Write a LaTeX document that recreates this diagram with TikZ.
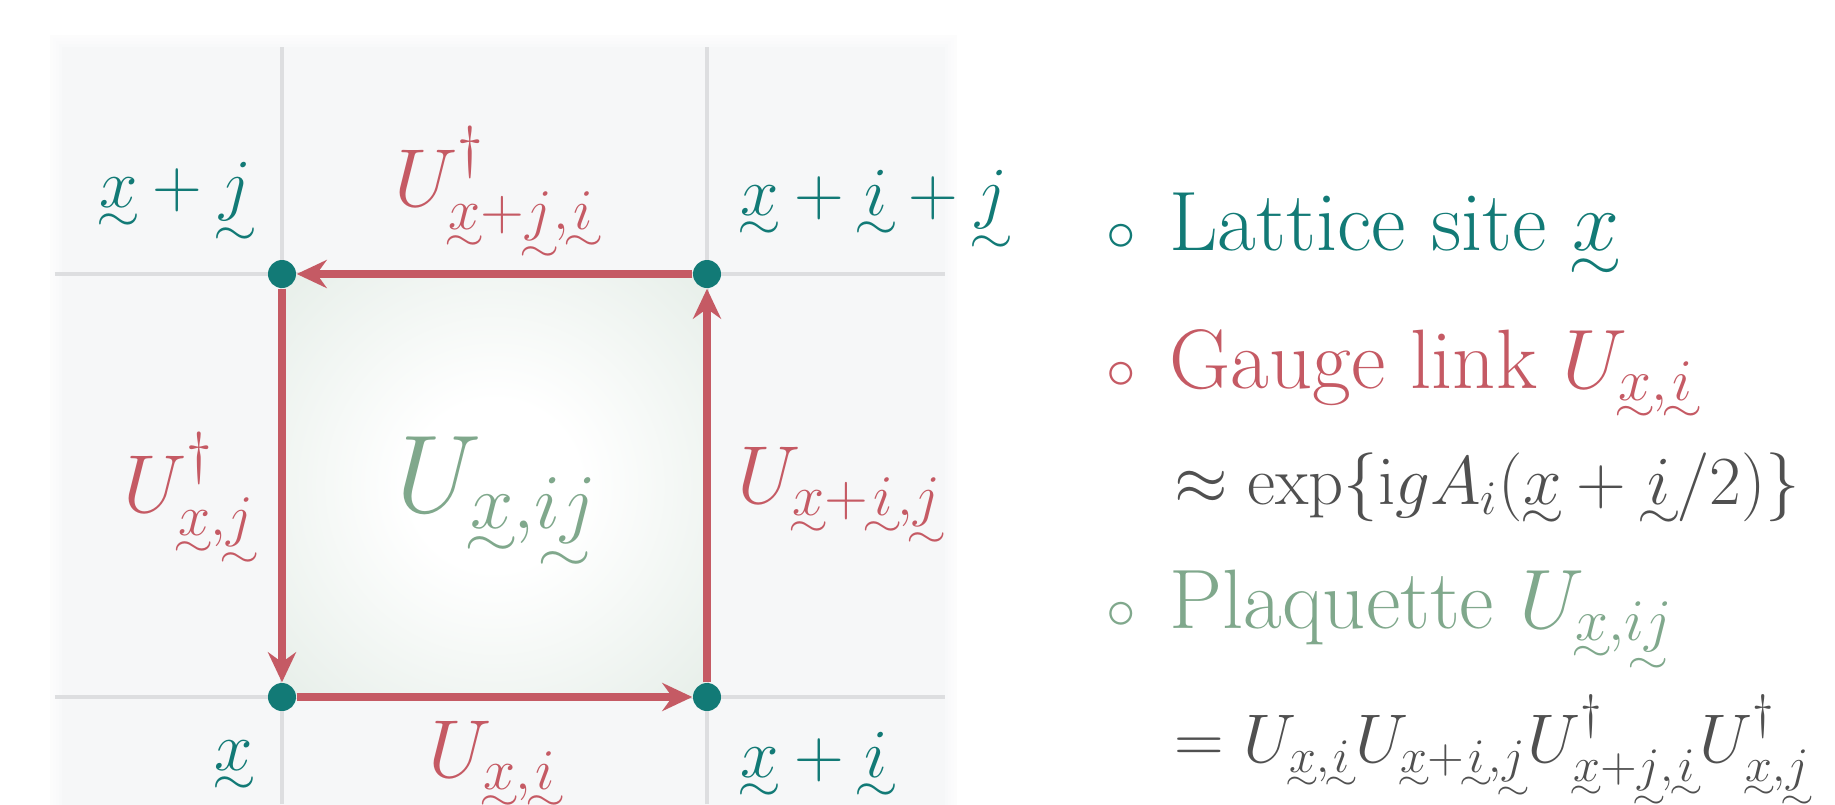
\RequirePackage{fix-cm}
\documentclass[tikz,border=0pt]{standalone}
\usepackage{amsmath}
\usepackage{graphicx}
\usetikzlibrary{arrows.meta,calc}

\definecolor{siteteal}{RGB}{18,122,118}
\definecolor{linkred}{RGB}{197,90,100}
\definecolor{plaqgreen}{RGB}{128,168,140}
\definecolor{formgray}{RGB}{80,80,80}
\definecolor{gridgray}{RGB}{221,222,224}
\definecolor{bggray}{RGB}{246,247,248}

\pgfdeclareradialshading{plaqshade}{\pgfpoint{0bp}{0bp}}{%
  color(0bp)=(white); color(10bp)=(white); color(50bp)=(plaqgreen!30);
  color(72bp)=(plaqgreen!45); color(100bp)=(plaqgreen!45)}

% tilde under a lattice vector
\makeatletter
\newcommand{\utld}[1]{{\mathpalette\utld@{#1}}}
\newcommand{\utld@}[2]{%
  \setbox\z@\hbox{$\m@th#1#2$}%
  \ifx#1\scriptstyle \dimen@=0.7em \def\utld@h{0.9}%
  \else\ifx#1\scriptscriptstyle \dimen@=0.5em \def\utld@h{0.9}%
  \else \dimen@=1em \def\utld@h{0.82}\fi\fi
  \@tempdima=0.5\dimen@
  \dimen@=-0.36\dimen@
  \advance\dimen@ by -\dp\z@
  \ooalign{\hfil\copy\z@\hfil\cr
    \hfil\raise\dimen@\hbox to\@tempdima{\hss\scalebox{\utld@h}[0.7]{$\m@th#1\sim$}\hss}\hfil\cr}}
\makeatother
\newcommand{\vecx}{\utld{x}}
\newcommand{\veci}{\utld{i}}
\newcommand{\vecj}{\utld{j}}

\begin{document}
\begin{tikzpicture}[>={Stealth[length=0.3cm,width=0.28cm,inset=0.1cm]}, line join=round,
  site/.style={circle, fill=siteteal, inner sep=0pt, minimum size=0.28cm},
  sitelabel/.style={text=siteteal, inner sep=0pt, font=\fontsize{19.6}{24}\selectfont},
  linklabel/.style={text=linkred, inner sep=0pt, font=\fontsize{23.4}{28}\selectfont},
  link/.style={->, draw=linkred, line width=0.085cm},
  legend/.style={anchor=base west, inner sep=0pt, font=\fontsize{24}{28}\selectfont},
  formula/.style={anchor=base west, inner sep=0pt, text=formgray, font=\fontsize{19.6}{24}\selectfont}]
  \useasboundingbox (-2.82,-1.07) rectangle (15.53,6.97);

  % lattice background
  \fill[bggray] (-2.32,-1.2) rectangle (6.75,6.62);
  \foreach \w in {0.06,0.12,0.18,0.24}
    \draw[white, opacity=0.3, line width=\w cm] (-2.32,-1.2) rectangle (6.75,6.62);
  \draw[gridgray, line width=0.045cm] (-2.27,0) -- (6.63,0);
  \draw[gridgray, line width=0.045cm] (-2.27,4.23) -- (6.63,4.23);
  \draw[gridgray, line width=0.045cm] (0,-1.07) -- (0,6.5);
  \draw[gridgray, line width=0.045cm] (4.25,-1.07) -- (4.25,6.5);

  \coordinate (O) at (0,0);
  \coordinate (I) at (4.25,0);
  \coordinate (J) at (0,4.23);
  \coordinate (IJ) at (4.25,4.23);

  % plaquette
  \shade[shading=plaqshade] (O) rectangle (IJ);

  \node[site] (x) at (O) {};
  \node[site] (xi) at (I) {};
  \node[site] (xj) at (J) {};
  \node[site] (xij) at (IJ) {};

  \draw[link] (x) -- (xi);
  \draw[link] (xi) -- (xij);
  \draw[link] (xij) -- (xj);
  \draw[link] (xj) -- (x);

  \node[sitelabel, anchor=base east] (lx) at ($(O)+(-0.28,-0.73)$) {$\vecx$};
  \node[sitelabel, anchor=base west] (lxi) at ($(I)+(0.33,-0.80)$) {$\vecx+\veci$};
  \node[sitelabel, anchor=base east] (lxj) at ($(J)+(-0.29,0.67)$) {$\vecx+\vecj$};
  \node[sitelabel, anchor=base west] (lxij) at ($(IJ)+(0.33,0.59)$) {$\vecx+\veci+\vecj$};

  \node[linklabel, anchor=base] (lbot) at (2.13,-0.80) {$U_{\vecx,\veci}$};
  \node[linklabel, anchor=base west] (lright) at (4.55,1.94) {$U_{\vecx+\veci,\vecj}$};
  \node[linklabel, anchor=base] (ltop) at (2.15,4.91) {$U^\dagger_{\vecx+\vecj,\veci}$};
  \node[linklabel, anchor=base east] (lleft) at (-0.25,1.85) {$U^\dagger_{\vecx,\vecj}$};

  \node[text=plaqgreen, inner sep=0pt, anchor=base, font=\fontsize{31.5}{38}\selectfont]
    (lplaq) at (2.15,1.85) {$U_{\vecx,\utld{ij}}$};

  % legend
  \node[legend, text=siteteal] (site) at (8.24,4.47)
    {$\scriptstyle\circ$\hspace{0.33cm}Lattice site $\vecx$};
  \node[legend, text=linkred] (gauge) at (8.24,3.09)
    {$\scriptstyle\circ$\hspace{0.33cm}Gauge link $U_{\vecx,\veci}$};
  \node[formula] (gaugedef) at (8.92,1.93)
    {$\approx\exp\{\mathrm{i}gA_i(\vecx+\veci/2)\}$};
  \node[legend, text=plaqgreen] (plaq) at (8.24,0.69)
    {$\scriptstyle\circ$\hspace{0.33cm}Plaquette $U_{\vecx,\utld{ij}}$};
  \node[formula] (plaqdef) at (8.92,-0.65)
    {$=U_{\vecx,\veci}U_{\vecx+\veci,\vecj}U^\dagger_{\vecx+\vecj,\veci}U^\dagger_{\vecx,\vecj}$};
\end{tikzpicture}
\end{document}
